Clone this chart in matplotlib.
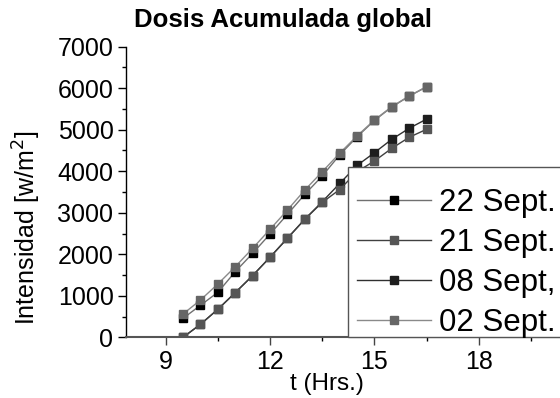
import matplotlib
matplotlib.use("Agg")
import matplotlib.pyplot as plt
from matplotlib.ticker import MultipleLocator
from matplotlib.patches import Rectangle

plt.rcParams['font.family'] = ['Liberation Sans', 'DejaVu Sans']

hours = [9.5, 10, 10.5, 11, 11.5, 12, 12.5, 13, 13.5, 14, 14.5, 15, 15.5, 16, 16.5]

sep22 = [458, 771, 1084, 1581, 2024, 2489, 2964, 3446, 3887, 4393, 4830, 5225, 5550, 5810, 6035]
sep21 = [0, 313, 675, 1077, 1487, 1930, 2388, 2846, 3250, 3560, 3990, 4248, 4554, 4819, 5012]
sep08 = [0, 313, 675, 1077, 1487, 1930, 2388, 2846, 3268, 3705, 4140, 4448, 4771, 5036, 5258]
sep02 = [561, 899, 1284, 1701, 2145, 2602, 3067, 3549, 3990, 4434, 4851, 5236, 5557, 5814, 6039]

labels = ['22 Sept.', '21 Sept.', '08 Sept,', '02 Sept.']
title = 'Dosis Acumulada global'
xlabel = 't (Hrs.)'
ylabel = 'Intensidad [w/m$^2$]'
xticks = [9, 12, 15, 18]
yticks = [0, 1000, 2000, 3000, 4000, 5000, 6000, 7000]

fig = plt.figure(figsize=(5.6, 3.98), dpi=100)
ax = fig.add_axes([126/560, (398-337.3)/398, 1 - 126/560, (337.3-46.7)/398])

series = [sep22, sep21, sep08, sep02]
line_colors = ['#707070', '#404040', '#303030', '#8a8a8a']
marker_colors = ['#000000', '#555555', '#1e1e1e', '#666666']
zorders = [3, 4, 2, 5]
for s, lab, lc, mc, z in zip(series, labels, line_colors, marker_colors, zorders):
    ax.plot(hours, s, '-', color=lc, lw=1.0, marker='s', markersize=5.2,
            markerfacecolor=mc, markeredgecolor=mc, label=lab, zorder=z)

ax.set_xlim(7.86, 20.33)
ax.set_ylim(0, 7000)
ax.set_xticks(xticks)
ax.set_yticks(yticks)
ax.xaxis.set_minor_locator(MultipleLocator(1.5))
ax.yaxis.set_minor_locator(MultipleLocator(500))
ax.tick_params(axis='both', which='major', direction='out', labelsize=18, length=6, width=1, pad=3)
ax.tick_params(axis='both', which='minor', direction='out', length=3, width=1)
ax.tick_params(axis='x', colors='#444444', labelcolor='black')
ax.spines['top'].set_visible(False)
ax.spines['right'].set_visible(False)
ax.spines['bottom'].set_color('#555555')
ax.spines['bottom'].set_linewidth(1.5)
ax.spines['left'].set_linewidth(1.0)

fig.text(283/560, 1 - 20/398, title, ha='center', va='center', fontsize=18.5, fontweight='bold')
fig.text(327/560, 1 - 384/398, xlabel, ha='center', va='center', fontsize=17.5)
fig.text(27/560, 1 - 228/398, ylabel, ha='center', va='center', rotation=90, fontsize=18)

# legend frame (white box with grey edge, running off the right edge)
frame = Rectangle((348/560, (398-337.3)/398), 1.0, (337.3-167)/398,
                  transform=fig.transFigure, facecolor='white', edgecolor='#555555',
                  linewidth=1.0, zorder=9)
ax.add_patch(frame)
frame.set_clip_on(False)

leg = ax.legend(loc='upper left', bbox_to_anchor=(348/560, 1 - 179/398),
                bbox_transform=fig.transFigure, fontsize=22.5, frameon=False,
                handlelength=2.34, handletextpad=0.28, labelspacing=0.32,
                borderpad=0.3, borderaxespad=0)
leg.set_zorder(10)

fig.savefig('out.png', dpi=100)
